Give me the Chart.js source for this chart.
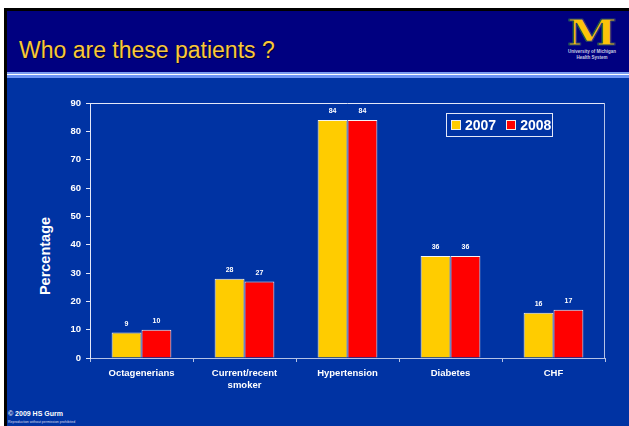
<!DOCTYPE html>
<html>
<head>
<meta charset="utf-8">
<script src="https://cdn.jsdelivr.net/npm/chart.js@4.4.1/dist/chart.umd.min.js"></script>
<style>
  html, body { margin: 0; padding: 0; background: #fff; }
  body { width: 629px; height: 426px; position: relative; overflow: hidden; font-family: "Liberation Sans", Arial, sans-serif; }
  .abs { position: absolute; }
  #slide { left: 4px; top: 8px; width: 625px; height: 418px; background: #000; }
  #header { left: 7px; top: 11px; width: 622px; height: 61px; background: #000080; }
  #s1 { left: 7px; top: 72px; width: 622px; height: 2px; background: #7a9cf0; }
  #s2 { left: 7px; top: 74px; width: 622px; height: 1px; background: #fff; }
  #s3 { left: 7px; top: 75px; width: 622px; height: 3px; background: #6b93f5; }
  #main { left: 7px; top: 78px; width: 622px; height: 348px; background: #0033a3; }
  #titre { left: 19px; top: 37px; font-size: 23px; color: #f8c83a; text-shadow: 1px 1px 0 #000030; white-space: nowrap; }
  #logoM { left: 572px; top: 14px; width: 40px; text-align: center; font: 900 36px "DejaVu Serif", serif; color: #fcc30a; -webkit-text-stroke: 1px #24406a; line-height: 36px; transform: scaleX(1.25); }
  #logoT { left: 558px; top: 49px; width: 68px; text-align: center; font: bold 4.5px "Liberation Sans", Arial, sans-serif; color: #c8cce0; line-height: 5.5px; }
  #rodape { left: 8px; top: 410px; font: bold 7px "Liberation Sans", Arial, sans-serif; color: #fff; }
  #rodape2 { left: 8px; top: 420px; font: 3.5px "Liberation Sans", Arial, sans-serif; color: #dde; }
  #eixoY { left: 45px; top: 256px; font: bold 14.5px "Liberation Sans", Arial, sans-serif; color: #fff; white-space: nowrap; transform: translate(-50%, -50%) rotate(-90deg); }
  #grafico { position: absolute; left: 0; top: 0; }
  #legenda { left: 446px; top: 113px; width: 105px; height: 22px; border: 1px solid #e4e8f8; display: flex; align-items: center; }
  .item { display: flex; align-items: center; margin-left: 4px; font: bold 14px "Liberation Sans", Arial, sans-serif; color: #fff; }
  .item + .item { margin-left: 10px; }
  .quad { width: 8px; height: 8px; border: 1px solid #eee; margin-right: 4px; }
</style>
</head>
<body>
<div class="abs" id="slide"></div>
<div class="abs" id="header"></div>
<div class="abs" id="s1"></div>
<div class="abs" id="s2"></div>
<div class="abs" id="s3"></div>
<div class="abs" id="main"></div>
<div class="abs" id="titre">Who are these patients ?</div>
<div class="abs" id="logoM">M</div>
<div class="abs" id="logoT">University of Michigan<br>Health System</div>
<div class="abs" id="rodape">© 2009 HS Gurm</div>
<div class="abs" id="rodape2">Reproduction without permission prohibited</div>
<div class="abs" id="eixoY">Percentage</div>
<canvas id="grafico" width="629" height="426"></canvas>
<div class="abs" id="legenda"></div>

<script>
const categorias = ["Octagenerians", ["Current/recent", "smoker"], "Hypertension", "Diabetes", "CHF"];
const anos = ["2007", "2008"];
const valores2007 = [9, 28, 84, 36, 16];
const valores2008 = [10, 27, 84, 36, 17];
const ticksY = [0, 10, 20, 30, 40, 50, 60, 70, 80, 90];
const cores = ["#ffcc00", "#ff0000"];

const fonte = "'Liberation Sans', Arial, sans-serif";

// rotulos de valor em cima das barras
const rotulos = {
  id: "rotulos",
  afterDatasetsDraw(chart) {
    const c = chart.ctx;
    c.save();
    c.fillStyle = "#fff";
    c.font = "bold 7px " + fonte;
    c.textAlign = "center";
    c.textBaseline = "bottom";
    chart.data.datasets.forEach((ds, i) => {
      chart.getDatasetMeta(i).data.forEach((bar, j) => {
        c.fillText(ds.data[j], bar.x, bar.y - 5);
      });
    });
    c.restore();
  }
};

// moldura de cima e da direita
const moldura = {
  id: "moldura",
  afterDraw(chart) {
    const a = chart.chartArea;
    const c = chart.ctx;
    c.save();
    c.lineWidth = 1;
    c.strokeStyle = "#e4e8f8";
    c.beginPath();
    c.moveTo(a.left, a.top + 0.5);
    c.lineTo(a.right, a.top + 0.5);
    c.stroke();
    c.strokeStyle = "#b4c2e6";
    c.beginPath();
    c.moveTo(a.right - 0.5, a.top);
    c.lineTo(a.right - 0.5, a.bottom);
    c.stroke();
    c.restore();
  }
};

const ctx = document.getElementById("grafico").getContext("2d");
const chart = new Chart(ctx, {
  type: "bar",
  data: {
    labels: categorias,
    datasets: [
      { label: anos[0], data: valores2007, backgroundColor: cores[0], borderColor: "#f4f4f4", borderWidth: 1 },
      { label: anos[1], data: valores2008, backgroundColor: cores[1], borderColor: "#f4f4f4", borderWidth: 1 }
    ]
  },
  options: {
    responsive: false,
    animation: false,
    layout: { padding: { top: 103, right: 24, left: 0, bottom: 0 } },
    datasets: { bar: { categoryPercentage: 0.58, barPercentage: 1 } },
    plugins: { legend: { display: false }, tooltip: { enabled: false } },
    scales: {
      x: {
        afterFit: (s) => { s.height = 68; },
        grid: { drawOnChartArea: false, drawTicks: true, tickLength: 4, color: "#b4c2e6" },
        border: { color: "#b4c2e6" },
        ticks: { color: "#fff", font: { family: fonte, size: 9.5, weight: "bold" }, padding: 6, maxRotation: 0 }
      },
      y: {
        min: 0,
        max: 90,
        afterFit: (s) => { s.width = 90; },
        afterBuildTicks: (s) => { s.ticks = ticksY.map((v) => ({ value: v })); },
        grid: { drawOnChartArea: false, drawTicks: true, tickLength: 4, color: "#e4e8f8" },
        border: { color: "#e4e8f8" },
        ticks: { color: "#fff", font: { family: fonte, size: 9.5, weight: "bold" }, padding: 5 }
      }
    }
  },
  plugins: [rotulos, moldura]
});

// legenda em html
const legenda = document.getElementById("legenda");
chart.data.datasets.forEach((ds) => {
  const item = document.createElement("div");
  item.className = "item";
  item.innerHTML = `<span class="quad" style="background:${ds.backgroundColor}"></span>${ds.label}`;
  legenda.appendChild(item);
});
</script>
</body>
</html>
